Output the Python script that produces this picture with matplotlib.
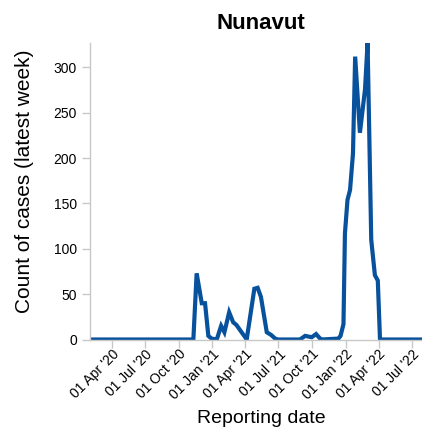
import matplotlib
matplotlib.use("Agg")
import matplotlib.pyplot as plt
import matplotlib.transforms as mtransforms
import numpy as np
import pandas as pd

plt.rcParams['font.family'] = ['Liberation Sans', 'DejaVu Sans']

# weekly case counts
dates = ["2020-02-01", "2020-11-10", "2020-11-19", "2020-12-03", "2020-12-12",
         "2020-12-21", "2020-12-30", "2021-01-13", "2021-01-25", "2021-02-03",
         "2021-02-16", "2021-02-27", "2021-03-08", "2021-03-22", "2021-03-31",
         "2021-04-05", "2021-04-26", "2021-05-05", "2021-05-14", "2021-05-30",
         "2021-06-11", "2021-06-22", "2021-06-30", "2021-08-29", "2021-09-12",
         "2021-09-30", "2021-10-12", "2021-10-23", "2021-10-28", "2021-12-12",
         "2021-12-18", "2021-12-26", "2021-12-30", "2022-01-06", "2022-01-13",
         "2022-01-21", "2022-01-27", "2022-02-09", "2022-02-23", "2022-03-02",
         "2022-03-12", "2022-03-22", "2022-03-30", "2022-04-05", "2022-07-29"]
cases = [0, 0, 73, 40, 40,
         4, 1, 0, 15, 8,
         30, 19, 16, 8, 3,
         0, 56, 57, 47, 8,
         5, 1, 0, 0, 4,
         2.5, 6, 1, 0, 1,
         4, 17, 117, 154, 165,
         205, 312, 228, 276, 327,
         110, 71, 65, 0, 0]

tick_dates = ["2020-04-01", "2020-07-01", "2020-10-01", "2021-01-01", "2021-04-01",
              "2021-07-01", "2021-10-01", "2022-01-01", "2022-04-01", "2022-07-01"]
tick_labels = ["01 Apr '20", "01 Jul '20", "01 Oct '20", "01 Jan '21", "01 Apr '21",
               "01 Jul '21", "01 Oct '21", "01 Jan '22", "01 Apr '22", "01 Jul '22"]
y_ticks = [0, 50, 100, 150, 200, 250, 300]

x = pd.to_datetime(dates)

fig = plt.figure(figsize=(4.22, 4.28), dpi=100)
ax = fig.add_axes([90/422, 1-339.5/428, 332/422, (339.5-43)/428])

ax.plot(x, cases, color="#08519c", lw=3, solid_joinstyle="miter")

ax.set_xlim(pd.Timestamp("2020-02-01"), pd.Timestamp("2022-07-29"))
ax.set_ylim(0, 327)
ax.set_yticks(y_ticks)
ax.set_xticks(pd.to_datetime(tick_dates))
ax.set_xticklabels(tick_labels, rotation=45, ha="right", va="top",
                   rotation_mode="anchor", fontsize=10)
shift = mtransforms.ScaledTranslation(5/100, 0, fig.dpi_scale_trans)
for lab in ax.get_xticklabels():
    lab.set_transform(lab.get_transform() + shift)
ax.tick_params(axis="y", labelsize=10, pad=4)
ax.tick_params(axis="x", pad=0)
ax.tick_params(length=5.5, width=1, color="#c8c8c8")

for s in ["top", "right"]:
    ax.spines[s].set_visible(False)
for s in ["left", "bottom"]:
    ax.spines[s].set_color("#c8c8c8")
    ax.spines[s].set_linewidth(1)

ax.set_xlabel("Reporting date", fontsize=14, va="top")
ax.xaxis.set_label_coords((261-90)/332, (339.5-410)/296.5)
ax.set_ylabel("Count of cases (latest week)", fontsize=15)
ax.yaxis.set_label_coords((34-90)/332, (339.5-181)/296.5)
ax.set_title("Nunavut", fontsize=16, fontweight="bold", pad=10, x=(260.5-90)/332)

fig.savefig("out.png", dpi=100)
